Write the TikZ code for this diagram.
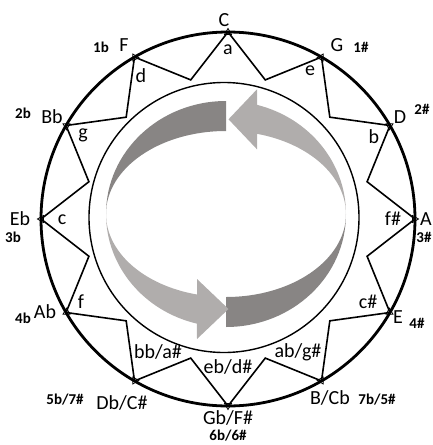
\documentclass[tikz,border=0pt]{standalone}
\usepackage{fontspec}
\setmainfont{Carlito}
\begin{document}
\begin{tikzpicture}[x=1pt,y=1pt,
	key/.style={font=\fontsize{20}{24}\selectfont,inner sep=0pt},
	sig/.style={font=\fontsize{15}{18}\selectfont\bfseries,inner sep=0pt}]
\definecolor{darkband}{RGB}{136,133,132}
\definecolor{lightband}{RGB}{176,173,172}
	\useasboundingbox (0,0) rectangle (433,-445);
	% the two turning arrows
	\fill[darkband] (226,-101) arc[start angle=90,end angle=180,x radius=120,y radius=113] arc[start angle=180,end angle=90,x radius=120,y radius=83] -- cycle;
	\fill[darkband] (226,-327) arc[start angle=270,end angle=360,x radius=120,y radius=113] arc[start angle=0,end angle=-90,x radius=120,y radius=83] -- cycle;
	\fill[lightband] (106,-214) arc[start angle=180,end angle=256,x radius=120,y radius=113] -- (197,-339) -- (228.5,-309) -- (197,-279) -- (197,-294.5) arc[start angle=256,end angle=180,x radius=120,y radius=83] -- cycle;
	\fill[lightband] (346,-214) arc[start angle=0,end angle=75,x radius=120,y radius=113] -- (257,-89.3) -- (228.5,-119.3) -- (257,-149.3) -- (257,-133.8) arc[start angle=75,end angle=0,x radius=120,y radius=83] -- cycle;
	\draw[line width=1.4] (224,-217.5) circle[radius=135];
	% star and outer ring
	\begin{scope}[shift={(228,-219)}]
	\draw[line width=1.6,line join=miter] (90:187) \foreach \i in {1,...,12} { -- (105-30*\i:144) -- (90-30*\i:187)} -- cycle;
	\draw[line width=2.8] (0,0) circle[radius=187];
	\foreach \a in {0,30,...,330}
		\draw[line width=0.8] (\a:190.5) -- (\a+1.1:184.5) -- (\a-1.1:184.5) -- cycle;
	\end{scope}
	% major keys
	\node[key] (C) at (224,-20) {C};
	\node[key] (G) at (337,-45) {G};
	\node[key] (D) at (400,-117) {D};
	\node[key] (A) at (426,-219) {A};
	\node[key] (E) at (398,-317) {E};
	\node[key] (B) at (330,-398) {B/Cb};
	\node[key] (Gb) at (228,-418) {Gb/F\#};
	\node[key] (Db) at (122,-403) {Db/C\#};
	\node[key] (Ab) at (45,-312) {Ab};
	\node[key] (Eb) at (20,-219) {Eb};
	\node[key] (Bb) at (52,-117) {Bb};
	\node[key] (F) at (124,-45) {F};
	% minor keys
	\node[key] (am) at (228,-50) {a};
	\node[key] (em) at (310,-71) {e};
	\node[key] (bm) at (374,-137) {b};
	\node[key] (fsm) at (393,-219) {f\#};
	\node[key] (csm) at (368,-302) {c\#};
	\node[key] (gsm) at (298,-352) {ab/g\#};
	\node[key] (dsm) at (228,-367) {eb/d\#};
	\node[key] (asm) at (158,-352) {bb/a\#};
	\node[key] (fm) at (81,-302) {f};
	\node[key] (cm) at (62,-220) {c};
	\node[key] (gm) at (83,-135) {g};
	\node[key] (dm) at (141,-76) {d};
	% signatures
	\node[sig] (s1b) at (101,-47) {1b};
	\node[sig] (s1s) at (361,-47) {1\#};
	\node[sig] (s2b) at (23,-113) {2b};
	\node[sig] (s2s) at (422,-109) {2\#};
	\node[sig] (s3b) at (13,-237) {3b};
	\node[sig] (s3s) at (424,-237) {3\#};
	\node[sig] (s4b) at (23,-318) {4b};
	\node[sig] (s4s) at (417,-323) {4\#};
	\node[sig] (s57) at (65,-400) {5b/7\#};
	\node[sig] (s66) at (228,-436) {6b/6\#};
	\node[sig] (s75) at (377,-400) {7b/5\#};
\end{tikzpicture}
\end{document}
